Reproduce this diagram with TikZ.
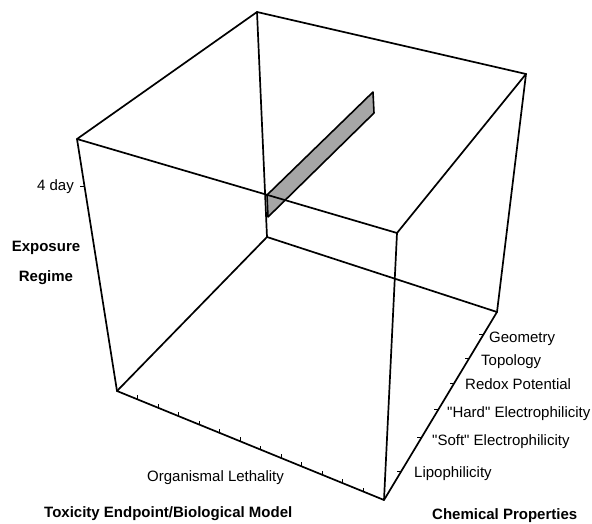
\documentclass[tikz,border=0pt]{standalone}
\usepackage{fontspec}
\setmainfont{Liberation Sans}[Ligatures=TeXOff]
\usetikzlibrary{calc}
\begin{document}
\begin{tikzpicture}[x=1pt,y=-1pt,
  edge/.style={line width=1.7pt,line join=round,line cap=round},
  tick/.style={line width=1pt},
  lab/.style={anchor=base west,inner sep=0pt,font=\fontsize{15}{18}\selectfont},
  blab/.style={lab,font=\fontsize{15}{18}\selectfont\bfseries},
  ribbon/.style={fill=black!35,draw=black,line width=1.6pt,line join=round}]
\useasboundingbox (0,0) rectangle (592,524);
% cube vertices
\coordinate (A) at (77,139);
\coordinate (B) at (257,12);
\coordinate (C) at (526,74);
\coordinate (D) at (397,233);
\coordinate (G) at (117,391);
\coordinate (E) at (267,237);
\coordinate (H) at (497,312);
\coordinate (F) at (384,500);
% ribbon
\coordinate (r1) at (267,195);
\coordinate (r2) at (373,92);
\coordinate (r3) at (374,113);
\coordinate (r4) at (268,217);
\draw[ribbon] (r1) -- (r2) -- (r3) -- (r4) -- cycle;
% edges
\draw[edge] (A) -- (B) -- (C) -- (D) -- cycle;
\draw[edge] (G) -- (E) -- (H) -- (F) -- cycle;
\draw[edge] (A) -- (G);
\draw[edge] (B) -- (E);
\draw[edge] (C) -- (H);
\draw[edge] (D) -- (F);
% ticks on G-F
\foreach \k in {1,...,12}{
  \draw[tick] ($(G)!\k/13!(F)$) -- ++(0,-4);
}
% ticks on F-H
\foreach \t in {0.149,0.33,0.479,0.622,0.755,0.878}{
  \draw[tick] ($(F)!\t!(H)$) -- ++(-4,0);
}
% 4 day tick
\coordinate (d4) at ($(A)!0.187!(G)$);
\draw[tick] (d4) -- ++(-4,0);
% labels
\node[lab,anchor=base east] (l4) at (74,190) {4 day};
\node[blab,anchor=base] (ex1) at (46,251) {Exposure};
\node[blab,anchor=base] (ex2) at (46,281) {Regime};
\node[lab] (org) at (147,481) {Organismal Lethality};
\node[blab] (tox) at (44,517) {Toxicity Endpoint/Biological Model};
\node[blab] (chem) at (432,519) {Chemical Properties};
\node[lab] (p6) at (489,342) {Geometry};
\node[lab] (p5) at (481,365) {Topology};
\node[lab] (p4) at (465,389) {Redox Potential};
\node[lab] (p3) at (447,417) {"Hard" Electrophilicity};
\node[lab] (p2) at (432,445) {"Soft" Electrophilicity};
\node[lab] (p1) at (414,477) {Lipophilicity};
\end{tikzpicture}
\end{document}
